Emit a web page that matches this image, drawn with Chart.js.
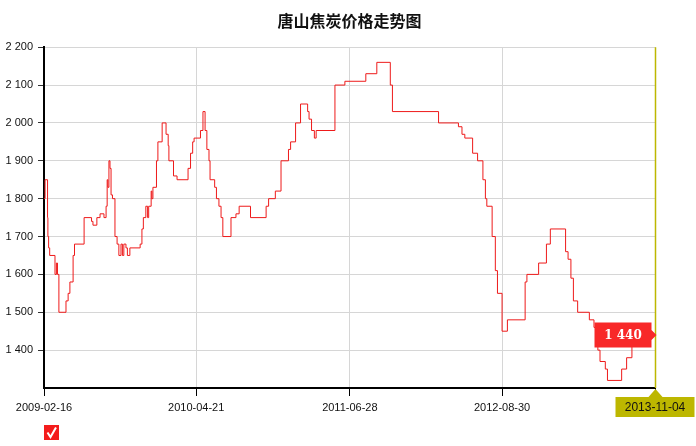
<!DOCTYPE html>
<html><head><meta charset="utf-8">
<script src="https://cdn.jsdelivr.net/npm/chart.js@4/dist/chart.umd.min.js"></script>
<style>html,body{margin:0;padding:0;background:#fff}#wrap{width:696px;height:446px}</style>
</head><body><div id="wrap"><canvas id="c" width="696" height="446"></canvas></div>
<script>
const chartTitle = '唐山焦炭价格走势图';
const dates = [
 '2009-02-16','2009-02-19','2009-02-26','2009-02-27','2009-03-01','2009-03-04','2009-03-19','2009-03-23','2009-03-26','2009-03-30',
 '2009-04-19','2009-04-25','2009-04-30','2009-05-09','2009-05-13','2009-06-09','2009-06-30','2009-07-04','2009-07-15','2009-07-24',
 '2009-08-04','2009-08-10','2009-08-13','2009-08-15','2009-08-18','2009-08-21','2009-08-24','2009-08-28','2009-09-04','2009-09-10',
 '2009-09-15','2009-09-21','2009-09-25','2009-09-29','2009-10-05','2009-10-09','2009-10-16','2009-11-14','2009-11-19','2009-11-23',
 '2009-11-30','2009-12-05','2009-12-08','2009-12-15','2009-12-17','2009-12-20','2009-12-30','2010-01-03','2010-01-15','2010-01-26',
 '2010-02-01','2010-02-03','2010-02-16','2010-02-26','2010-03-29','2010-04-05','2010-04-11','2010-04-15','2010-05-03','2010-05-10',
 '2010-05-16','2010-05-21','2010-05-27','2010-05-30','2010-06-12','2010-06-17','2010-06-24','2010-06-30','2010-07-05','2010-07-28',
 '2010-08-11','2010-08-20','2010-09-21','2010-11-04','2010-11-11','2010-11-30','2010-12-16','2011-01-06','2011-01-12','2011-01-26',
 '2011-02-09','2011-03-01','2011-03-05','2011-03-12','2011-03-20','2011-03-25','2011-05-17','2011-06-14','2011-08-12','2011-09-12',
 '2011-10-20','2011-10-26','2012-03-04','2012-04-29','2012-05-09','2012-05-17','2012-06-08','2012-06-22','2012-07-07','2012-07-14',
 '2012-07-18','2012-08-02','2012-08-11','2012-08-17','2012-08-30','2012-09-14','2012-11-03','2012-11-08','2012-12-11','2013-01-02',
 '2013-01-13','2013-02-25','2013-03-04','2013-03-12','2013-03-19','2013-03-31','2013-05-03','2013-05-16','2013-05-22','2013-05-27',
 '2013-06-02','2013-06-17','2013-06-23','2013-08-02','2013-08-16','2013-08-31','2013-11-04'
];
const prices = [
 1800,1850,1750,1700,1670,1650,1600,1630,1600,1500,
 1530,1550,1580,1650,1680,1750,1740,1730,1750,1760,
 1750,1780,1850,1830,1900,1880,1810,1800,1700,1680,
 1650,1680,1650,1680,1670,1650,1670,1680,1720,1750,
 1780,1750,1780,1820,1800,1830,1900,1950,2000,1970,
 1940,1900,1860,1850,1880,1920,1950,1960,1980,2030,
 1980,1930,1900,1850,1830,1800,1780,1750,1700,1750,
 1760,1780,1750,1780,1800,1820,1900,1930,1950,2000,
 2050,2030,2010,1980,1960,1980,2100,2110,2130,2160,
 2100,2030,2000,1990,1970,1960,1920,1900,1850,1800,
 1780,1700,1610,1550,1450,1480,1580,1600,1630,1680,
 1720,1660,1640,1590,1530,1500,1480,1460,1420,1400,
 1370,1350,1320,1350,1380,1440,1440
];
const xTickDates = ['2009-02-16','2010-04-21','2011-06-28','2012-08-30','2013-11-04'];
const yMin = 1300, yMax = 2200, yStep = 100;

const day0 = Date.parse(xTickDates[0] + 'T00:00:00Z');
const dayOf = s => Math.round((Date.parse(s + 'T00:00:00Z') - day0) / 86400000);
const fmt = v => v >= 1000 ? Math.floor(v / 1000) + ' ' + String(v % 1000).padStart(3, '0') : String(v);

const points = dates.map((d, i) => ({x: dayOf(d), y: prices[i]}));
const lastDate = dates[dates.length - 1];
const lastPrice = prices[prices.length - 1];

const overlay = {
  id: 'overlay',
  afterDraw(chart) {
    const ctx = chart.ctx, xs = chart.scales.x, ys = chart.scales.y, a = chart.chartArea;
    const lx = Math.round(xs.getPixelForValue(dayOf(lastDate))) + 0.5;
    const ly = ys.getPixelForValue(lastPrice);
    ctx.save();
    ctx.strokeStyle = '#bdb700'; ctx.lineWidth = 1.5;
    ctx.beginPath(); ctx.moveTo(lx, a.top); ctx.lineTo(lx, a.bottom); ctx.stroke();
    ctx.fillStyle = '#bdb700';
    ctx.beginPath();
    ctx.moveTo(lx, a.bottom + 1); ctx.lineTo(lx + 7, a.bottom + 9); ctx.lineTo(lx - 7, a.bottom + 9); ctx.closePath(); ctx.fill();
    ctx.fillRect(lx - 40, a.bottom + 9, 79, 20);
    ctx.fillStyle = '#111'; ctx.font = '12px "Liberation Sans"'; ctx.textAlign = 'center'; ctx.textBaseline = 'middle';
    ctx.fillText(lastDate, lx - 0.5, a.bottom + 19.5);
    ctx.fillStyle = '#f82828';
    const bx = lx - 61, bw = 57, bh = 25, by = ly - 12.5;
    ctx.beginPath();
    ctx.moveTo(bx, by); ctx.lineTo(bx + bw, by); ctx.lineTo(bx + bw, ly - 5); ctx.lineTo(bx + bw + 5, ly);
    ctx.lineTo(bx + bw, ly + 5); ctx.lineTo(bx + bw, by + bh); ctx.lineTo(bx, by + bh); ctx.closePath(); ctx.fill();
    ctx.fillStyle = '#fff'; ctx.font = 'bold 12px "DejaVu Serif"';
    ctx.fillText(fmt(lastPrice), bx + bw / 2, ly + 0.5);
    const cx = a.left, cy = 425;
    ctx.fillStyle = '#f41c1c'; ctx.fillRect(cx, cy, 15, 15);
    ctx.strokeStyle = '#fff'; ctx.lineWidth = 2;
    ctx.beginPath(); ctx.moveTo(cx + 3.5, cy + 7.5); ctx.lineTo(cx + 6.5, cy + 12); ctx.lineTo(cx + 12, cy + 2.5); ctx.stroke();
    ctx.restore();
  }
};

new Chart(document.getElementById('c'), {
  type: 'line',
  data: { datasets: [{
    label: chartTitle, data: points, borderColor: '#ee1a1a', borderWidth: 1,
    pointRadius: 0, stepped: 'before', fill: false
  }]},
  options: {
    responsive: false, animation: false, devicePixelRatio: 1,
    layout: { padding: { left: 0, right: 41, top: 0, bottom: 0 } },
    plugins: {
      legend: { display: false }, tooltip: { enabled: false },
      title: { display: true, text: chartTitle, color: '#111', fullSize: false,
        font: { family: '"Noto Sans CJK SC"', size: 16, weight: 'bold' }, padding: { top: 11, bottom: 17 } }
    },
    scales: {
      x: {
        type: 'linear', min: dayOf(xTickDates[0]), max: dayOf(xTickDates[xTickDates.length - 1]),
        afterBuildTicks: s => { s.ticks = xTickDates.map(d => ({ value: dayOf(d) })); },
        afterFit: s => { s.height = 58; },
        ticks: { autoSkip: false, maxRotation: 0, padding: 5, color: '#111',
          font: { family: '"Liberation Sans"', size: 11 },
          callback: (v, i) => i === xTickDates.length - 1 ? '' : xTickDates[i] },
        grid: { color: '#d6d6d6', tickColor: '#000', tickLength: 8 },
        border: { display: true, color: '#000', width: 2 }
      },
      y: {
        min: yMin, max: yMax,
        afterFit: s => { s.width = 44; },
        ticks: { stepSize: yStep, padding: 5, color: '#111',
          font: { family: '"Liberation Sans"', size: 11 },
          callback: v => v === yMin ? '' : fmt(v) },
        grid: { color: '#d6d6d6', tickLength: 6,
          tickColor: c => (c.tick && c.tick.value === yMin) ? 'rgba(0,0,0,0)' : '#333' },
        border: { display: true, color: '#000', width: 2 }
      }
    }
  },
  plugins: [overlay]
});
</script></body></html>
